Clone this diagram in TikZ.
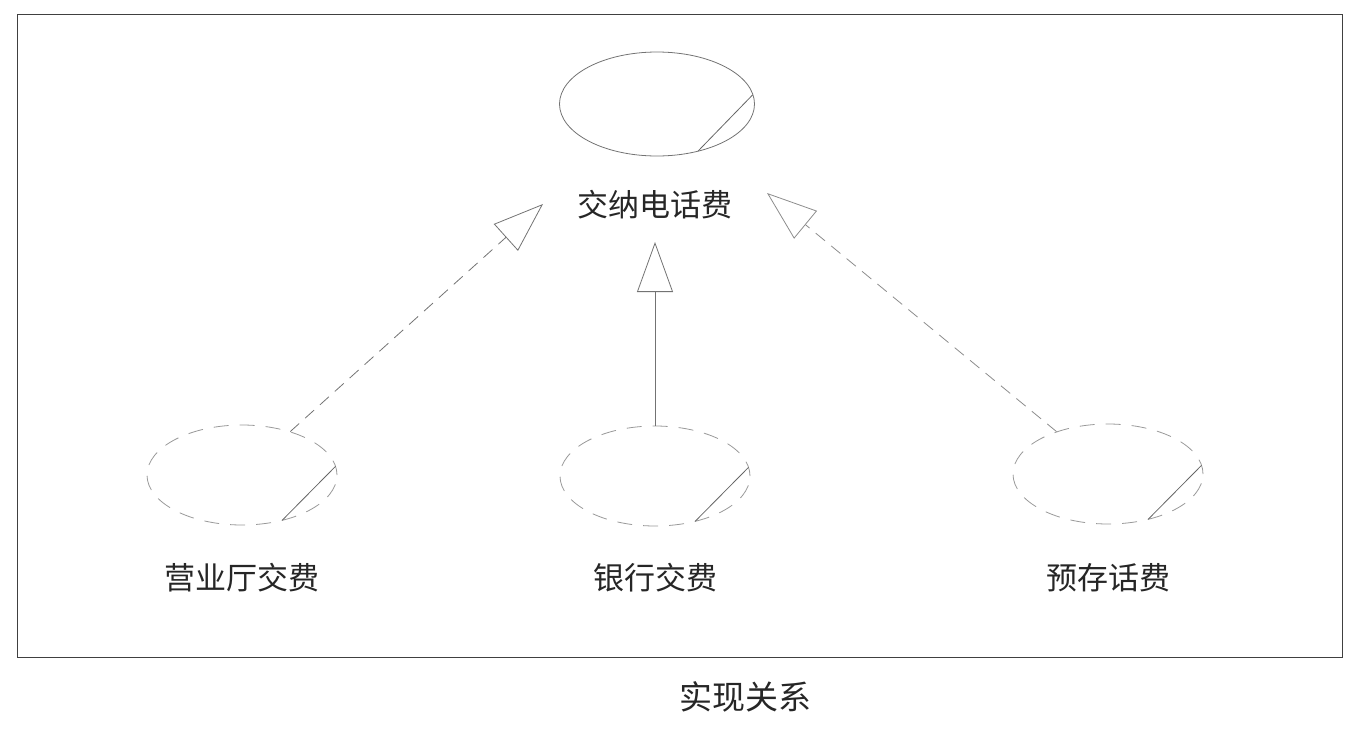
\documentclass[tikz,border=0pt]{standalone}
\usepackage{fontspec}
\newfontfamily\cjk{Noto Sans CJK SC}
\usetikzlibrary{arrows.meta,shapes.geometric}

\begin{document}
\begin{tikzpicture}[x=1pt,y=-1pt,
  usecase/.style={ellipse, draw=black!55, line width=0.8pt, minimum width=195pt, minimum height=104pt, inner sep=0pt},
  collab/.style={usecase, draw=black!40, dash pattern=on 15pt off 11pt, minimum width=190pt, minimum height=100pt},
  caseline/.style={draw=black!60, line width=0.8pt},
  realize/.style={draw=black!55, line width=0.8pt, -{Triangle[open, length=50pt, width=36pt]}},
  lbl/.style={font=\cjk\fontsize{31}{36}\selectfont, text=black!85}]
\useasboundingbox (0,0) rectangle (1366,729);
\draw[black!75, line width=1pt] (17,14) rectangle (1342,657);
\node[usecase] (pay) at (657,104) {};
\node[collab] (hall) at (242,475) {};
\node[collab] (bank) at (655,476) {};
\node[collab] (store) at (1108,474) {};
\draw[caseline] ([shift={(65:97 and 52)}]pay.center) -- ([shift={(-10:97 and 52)}]pay.center);
\draw[caseline] ([shift={(65:95 and 50)}]hall.center) -- ([shift={(-10:95 and 50)}]hall.center);
\draw[caseline] ([shift={(65:95 and 50)}]bank.center) -- ([shift={(-10:95 and 50)}]bank.center);
\draw[caseline] ([shift={(65:95 and 50)}]store.center) -- ([shift={(-10:95 and 50)}]store.center);
\node[lbl] (payL) at (655,205) {交纳电话费};
\node[lbl] (hallL) at (242,578) {营业厅交费};
\node[lbl] (bankL) at (655,578) {银行交费};
\node[lbl] (storeL) at (1108,578) {预存话费};
\coordinate (tipL) at (543,204);
\coordinate (tipM) at (655,242);
\coordinate (tipR) at (767,193);
\draw[realize, dash pattern=on 12pt off 8pt] (hall) -- (tipL);
\draw[realize] (bank) -- (tipM);
\draw[realize, dash pattern=on 12pt off 8pt, draw=black!45] (store) -- (tipR);
\node[lbl, font=\cjk\fontsize{33}{38}\selectfont] (caption) at (745,697) {实现关系};
\end{tikzpicture}
\end{document}
